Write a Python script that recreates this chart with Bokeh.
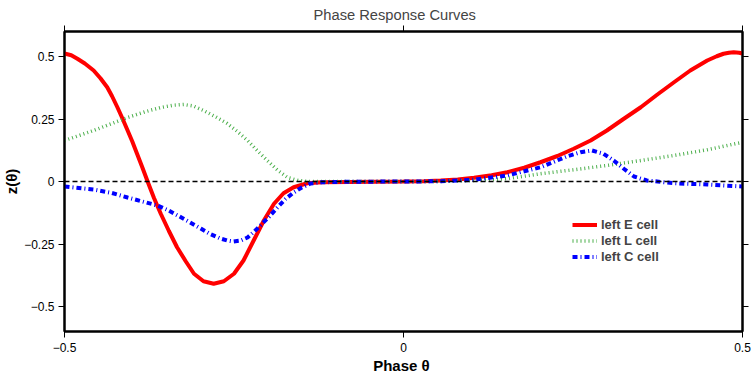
from bokeh.plotting import figure
from bokeh.models import LinearAxis, FixedTicker, Range1d, Legend, LegendItem, Span
from bokeh.embed import file_html
from bokeh.resources import INLINE

# ---- data ----
e_x = [-0.5, -0.49, -0.481, -0.47, -0.457, -0.447, -0.437, -0.43, -0.422, -0.415, -0.408, -0.4,
       -0.393, -0.385, -0.377, -0.368, -0.358, -0.346, -0.334, -0.321, -0.309, -0.295, -0.28,
       -0.265, -0.25, -0.236, -0.221, -0.206, -0.191, -0.177, -0.162, -0.142, -0.12, -0.08, -0.04,
       0.0, 0.03, 0.055, 0.08, 0.104, 0.13, 0.153, 0.178, 0.202, 0.227, 0.251, 0.276, 0.3, 0.325,
       0.35, 0.374, 0.399, 0.423, 0.448, 0.462, 0.472, 0.48, 0.487, 0.495, 0.5]
e_y = [0.512, 0.505, 0.491, 0.472, 0.444, 0.413, 0.377, 0.342, 0.297, 0.255, 0.211, 0.16,
       0.111, 0.055, -0.003, -0.066, -0.129, -0.198, -0.263, -0.32, -0.369, -0.399, -0.409,
       -0.399, -0.369, -0.316, -0.236, -0.156, -0.089, -0.047, -0.023, -0.007, -0.003, -0.002, -0.001,
       0.0, 0.001, 0.004, 0.008, 0.015, 0.025, 0.037, 0.055, 0.077, 0.102, 0.131, 0.164, 0.204, 0.251,
       0.297, 0.347, 0.397, 0.444, 0.484, 0.501, 0.511, 0.515, 0.517, 0.515, 0.512]

l_x = [-0.5, -0.457, -0.43, -0.407, -0.38, -0.358, -0.34, -0.324, -0.31, -0.295, -0.278, -0.26,
       -0.245, -0.23, -0.215, -0.201, -0.186, -0.171, -0.155, -0.14, -0.1, -0.05, 0.0, 0.05, 0.104,
       0.153, 0.202, 0.251, 0.3, 0.35, 0.399, 0.448, 0.5]
l_y = [0.164, 0.204, 0.232, 0.256, 0.28, 0.296, 0.305, 0.308, 0.302, 0.284, 0.26, 0.232,
       0.2, 0.164, 0.122, 0.084, 0.046, 0.016, 0.004, 0.0, 0.0, 0.0, 0.0, 0.0, 0.004,
       0.011, 0.031, 0.047, 0.064, 0.084, 0.104, 0.127, 0.157]

c_x = [-0.5, -0.457, -0.43, -0.407, -0.385, -0.363, -0.348, -0.333, -0.316, -0.299, -0.285, -0.27,
       -0.26, -0.251, -0.24, -0.23, -0.22, -0.211, -0.198, -0.186, -0.174, -0.162, -0.15, -0.137,
       -0.12, -0.08, 0.0, 0.055, 0.104, 0.153, 0.202, 0.241, 0.261, 0.278, 0.295, 0.31, 0.325,
       0.34, 0.359, 0.399, 0.448, 0.5]
c_y = [-0.02, -0.032, -0.046, -0.064, -0.08, -0.096, -0.114, -0.136, -0.162, -0.188, -0.21, -0.228,
       -0.236, -0.24, -0.236, -0.224, -0.2, -0.176, -0.14, -0.104, -0.07, -0.044, -0.024, -0.008,
       -0.003, -0.001, 0.0, 0.001, 0.007, 0.024, 0.057, 0.1, 0.117, 0.124, 0.111, 0.084, 0.051,
       0.02, 0.004, -0.007, -0.012, -0.02]

series_names = ["left E cell", "left L cell", "left C cell"]

x_ticks = [-0.5, 0, 0.5]
x_tick_labels = ["\u22120.5", "0", "0.5"]
y_ticks = [-0.5, -0.25, 0, 0.25, 0.5]
y_tick_labels = ["\u22120.5", "\u22120.25", "0", "0.25", "0.5"]

FONT = "Liberation Sans"

p = figure(width=752, height=377, x_range=Range1d(-0.5, 0.5), y_range=Range1d(-0.6, 0.6),
           output_backend="svg", toolbar_location=None,
           min_border_left=64, min_border_right=10, min_border_top=31, min_border_bottom=46,
           title="Phase Response Curves")
p.title.align = "left"
p.title.offset = 249
p.title.text_font = FONT
p.title.text_font_size = "14.7px"
p.title.text_font_style = "normal"
p.title.text_line_height = 1.0
p.title.standoff = 6
p.grid.visible = False
p.outline_line_color = "black"
p.outline_line_width = 2
p.background_fill_color = "white"
p.border_fill_color = "white"

xt = FixedTicker(ticks=x_ticks)
yt = FixedTicker(ticks=y_ticks)

def style_axis(ax, ticker, overrides, labels=True):
    ax.ticker = ticker
    ax.minor_tick_line_color = None
    ax.major_tick_in = 0
    ax.major_tick_out = 6
    ax.major_tick_line_color = "black"
    ax.major_tick_line_width = 1
    ax.axis_line_color = "black"
    ax.axis_line_width = 2
    ax.major_label_text_font = FONT
    ax.major_label_text_font_size = "12px"
    ax.major_label_text_color = "black"
    ax.major_label_standoff = 4
    if labels:
        ax.major_label_overrides = overrides
    else:
        ax.major_label_overrides = {t: "" for t in ticker.ticks}
    ax.axis_label_text_font = FONT
    ax.axis_label_text_font_size = "15px"
    ax.axis_label_text_font_style = "bold"
    ax.axis_label_text_color = "black"

style_axis(p.xaxis[0], xt, dict(zip(x_ticks, x_tick_labels)))
style_axis(p.yaxis[0], yt, dict(zip(y_ticks, y_tick_labels)))
p.xaxis[0].axis_label = "Phase  \u03b8"
p.yaxis[0].axis_label = "z(\u03b8)"
p.xaxis[0].major_label_standoff = 5
p.xaxis[0].axis_label_standoff = 2
p.yaxis[0].axis_label_standoff = 1

top = LinearAxis()
style_axis(top, xt, None, labels=False)
top.major_label_text_font_size = "0px"
top.major_label_standoff = 0
p.add_layout(top, "above")
right = LinearAxis()
style_axis(right, yt, None, labels=False)
right.major_label_text_font_size = "0px"
right.major_label_standoff = 0
p.add_layout(right, "right")

r_e = p.line(e_x, e_y, line_color="#ff0000", line_width=4)
r_l = p.line(l_x, l_y, line_color="#4caf4c", line_width=3.5, line_dash="1 3")
r_c = p.line(c_x, c_y, line_color="#0000ff", line_width=4, line_dash="5 3 1 3")

p.add_layout(Span(location=0, dimension="width", line_color="black", line_width=1.5, line_dash="5 3"))

legend = Legend(items=[LegendItem(label=series_names[0], renderers=[r_e]),
                       LegendItem(label=series_names[1], renderers=[r_l]),
                       LegendItem(label=series_names[2], renderers=[r_c])],
                location=(508, 67))
legend.background_fill_alpha = 0
legend.border_line_color = None
legend.label_text_font = FONT
legend.label_text_font_style = "bold"
legend.label_text_font_size = "13px"
legend.glyph_width = 25
legend.glyph_height = 15
legend.label_height = 15
legend.spacing = 1
legend.padding = 0
legend.margin = 0
legend.label_standoff = 4
p.add_layout(legend)

open("out.html", "w").write(file_html(p, INLINE))
